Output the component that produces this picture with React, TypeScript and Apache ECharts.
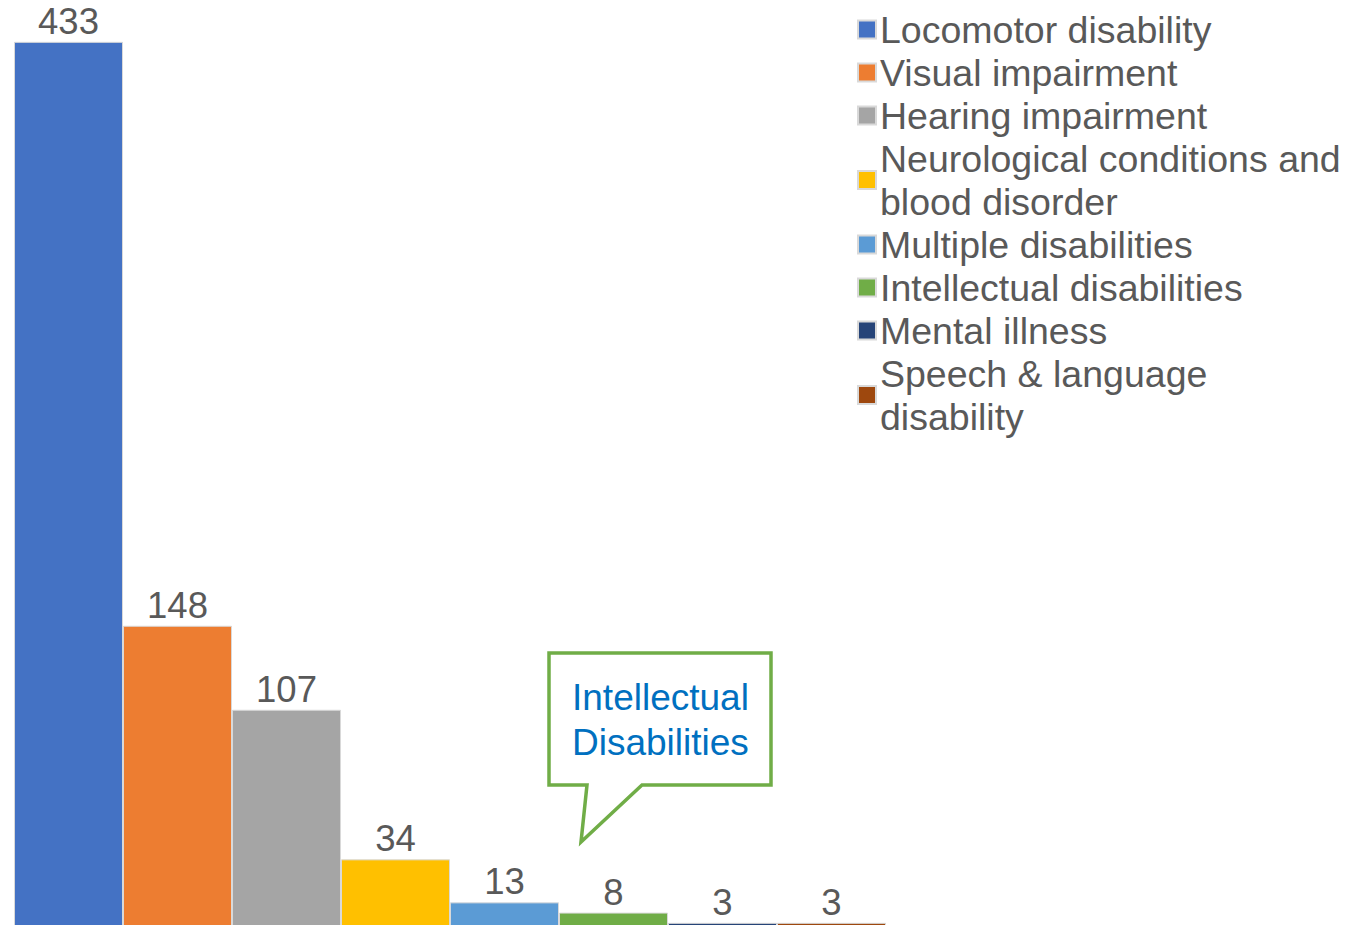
import React, { useEffect, useRef } from "react";
import * as echarts from "echarts";

const categories = [
  "Locomotor disability",
  "Visual impairment",
  "Hearing impairment",
  "Neurological conditions and blood disorder",
  "Multiple disabilities",
  "Intellectual disabilities",
  "Mental illness",
  "Speech & language disability",
];
const legendLabels = [
  "Locomotor disability",
  "Visual impairment",
  "Hearing impairment",
  "Neurological conditions and\nblood disorder",
  "Multiple disabilities",
  "Intellectual disabilities",
  "Mental illness",
  "Speech & language\ndisability",
];
const values = [433, 148, 107, 34, 13, 8, 3, 3];
const colors = ["#4472C4", "#ED7D31", "#A5A5A5", "#FFC000", "#5B9BD5", "#70AD47", "#264478", "#9E480E"];
const calloutText = "Intellectual\nDisabilities";

const FONT = "'Liberation Sans', Arial, sans-serif";

export default function App() {
  const ref = useRef<HTMLDivElement>(null);
  useEffect(() => {
    if (!ref.current) return;
    const chart = echarts.init(ref.current, null, { renderer: "svg" });
    const series = categories.map((name, i) => ({
      name,
      type: "bar",
      stack: "all",
      barCategoryGap: "0%",
      data: values.map((v, j) => (j === i ? v : "-")),
      itemStyle: { color: colors[i], borderColor: "#D9D9D9", borderWidth: 1 },
      label: {
        show: true,
        position: "top",
        distance: 2,
        color: "#595959",
        fontSize: 36.5,
        fontFamily: FONT,
      },
    }));
    chart.setOption({
      animation: false,
      grid: { left: 14, right: 460, top: 7, bottom: 6 },
      xAxis: {
        type: "category",
        data: categories,
        show: false,
      },
      yAxis: { type: "value", min: 0, max: 450, show: false, splitLine: { show: false } },
      legend: {
        orient: "vertical",
        left: 857,
        top: 8,
        itemGap: 0,
        itemWidth: 18,
        itemHeight: 18,
        icon: "rect",
        padding: 0,
        data: categories,
        formatter: (name: string) => legendLabels[categories.indexOf(name)],
        textStyle: {
          color: "#595959",
          fontSize: 37.5,
          lineHeight: 43,
          fontFamily: FONT,
          padding: [0, 0, 0, -1],
        },
      },
      series,
      graphic: [
        {
          type: "polygon",
          shape: {
            points: [
              [549, 653],
              [771, 653],
              [771, 785],
              [642, 785],
              [581, 842],
              [587, 785],
              [549, 785],
            ],
          },
          style: { fill: "#FFFFFF", stroke: "#70AD47", lineWidth: 3.5, lineJoin: "miter" },
          z: 100,
        },
        {
          type: "text",
          x: 572,
          y: 675,
          z: 101,
          style: {
            text: calloutText,
            fill: "#0070C0",
            fontSize: 37,
            lineHeight: 45,
            fontFamily: FONT,
            verticalAlign: "top",
            align: "left",
          },
        },
      ],
    });
    return () => chart.dispose();
  }, []);
  return (
    <div
      ref={ref}
      style={{ position: "fixed", left: 0, top: 0, width: 1346, height: 935, background: "#fff" }}
    />
  );
}
